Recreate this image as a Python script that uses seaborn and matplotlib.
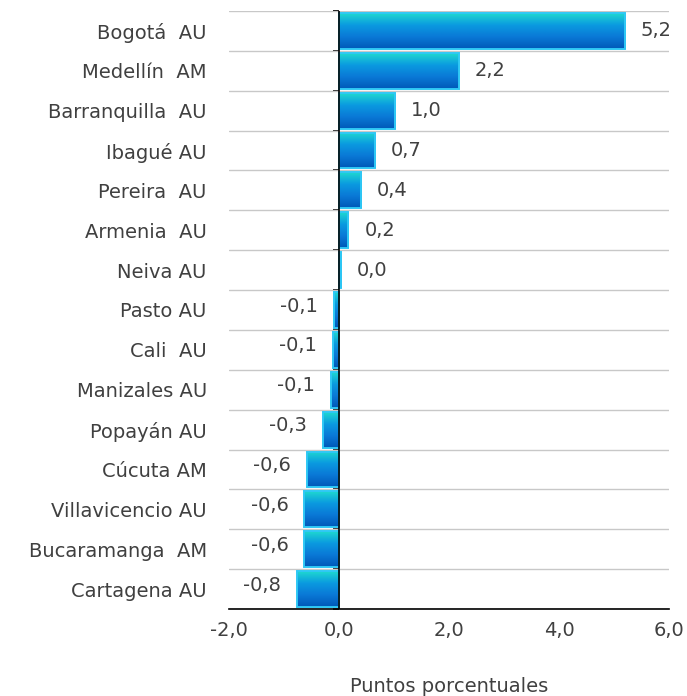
import matplotlib.pyplot as plt
import matplotlib.colors as mcolors
import numpy as np
import seaborn as sns

sns.set_style("white")
plt.rcParams['font.family'] = ['DejaVu Sans']

ciudades = ["Bogotá  AU", "Medellín  AM", "Barranquilla  AU", "Ibagué AU", "Pereira  AU",
            "Armenia  AU", "Neiva AU", "Pasto AU", "Cali  AU", "Manizales AU",
            "Popayán AU", "Cúcuta AM", "Villavicencio AU", "Bucaramanga  AM", "Cartagena AU"]
valores = [5.2, 2.18, 1.02, 0.66, 0.40, 0.17, 0.04, -0.09, -0.11, -0.14,
           -0.29, -0.58, -0.63, -0.63, -0.76]
xticks = [-2, 0, 2, 4, 6]

txt = "#404040"
fs = 14
fig = plt.figure(figsize=(6.87, 6.96), dpi=100)
ax = fig.add_axes([0.3333, 0.125, 0.6405, 0.8592])

sns.barplot(x=valores, y=ciudades, orient="h", width=0.9, ax=ax,
            color="#0a80d8", edgecolor="#2fc8f5", linewidth=1.4, zorder=3)

# gradient fill (teal top -> dark blue bottom), clipped to each bar
cmap = mcolors.LinearSegmentedColormap.from_list(
    "grad", ["#1fd8d0", "#0a9ae0", "#0a78d6", "#0058b8"])
grad = np.linspace(0, 1, 100).reshape(-1, 1)
for p in ax.patches:
    x0, y0 = p.get_x(), p.get_y()
    w, h = p.get_width(), p.get_height()
    im = ax.imshow(grad, cmap=cmap, aspect="auto", zorder=2.5,
                   extent=[x0, x0 + w, y0 + h, y0], origin="upper")
    im.set_clip_path(p)
    p.set_facecolor("none")

ax.set_xlim(-2, 6)
ax.set_ylim(len(ciudades) - 0.5, -0.5)
ax.set_xticks(xticks)
ax.set_xticklabels([f"{t:.1f}".replace(".", ",") for t in xticks])

# horizontal gridlines between categories
ax.set_yticks(np.arange(len(ciudades) + 1) - 0.5, minor=True)
ax.grid(which="minor", axis="y", color="#c8c8c8", lw=1, zorder=0)
ax.grid(which="major", visible=False)
ax.tick_params(axis="y", which="both", length=0, pad=16, labelsize=fs, labelcolor=txt)
ax.tick_params(axis="x", length=6, width=1, color="black", labelsize=fs,
               labelcolor=txt, pad=6, direction="inout")

for s in ["top", "right", "left"]:
    ax.spines[s].set_visible(False)
ax.spines["bottom"].set_color("black")
ax.spines["bottom"].set_linewidth(1.2)

# zero line with small tick marks
ax.axvline(0, color="black", lw=1.2, zorder=4)
sec = ax.secondary_yaxis(0.25)
sec.set_yticks(np.arange(len(ciudades) + 1) - 0.5)
sec.set_yticklabels([])
sec.spines["left"].set_visible(False)
sec.tick_params(length=4, width=1.2, color="black", direction="out")

# value labels
for i, v in enumerate(valores):
    lab = f"{v:.1f}".replace(".", ",")
    if lab == "-0,0":
        lab = "0,0"
    if v >= 0:
        ax.text(v + 0.29, i, lab, ha="left", va="center", fontsize=fs, color=txt)
    else:
        ax.text(v - 0.29, i - 0.1, lab, ha="right", va="center", fontsize=fs, color=txt)

ax.set_xlabel("Puntos porcentuales", fontsize=fs, color=txt, labelpad=26)
ax.set_ylabel("")

fig.savefig("out.png", dpi=100)
